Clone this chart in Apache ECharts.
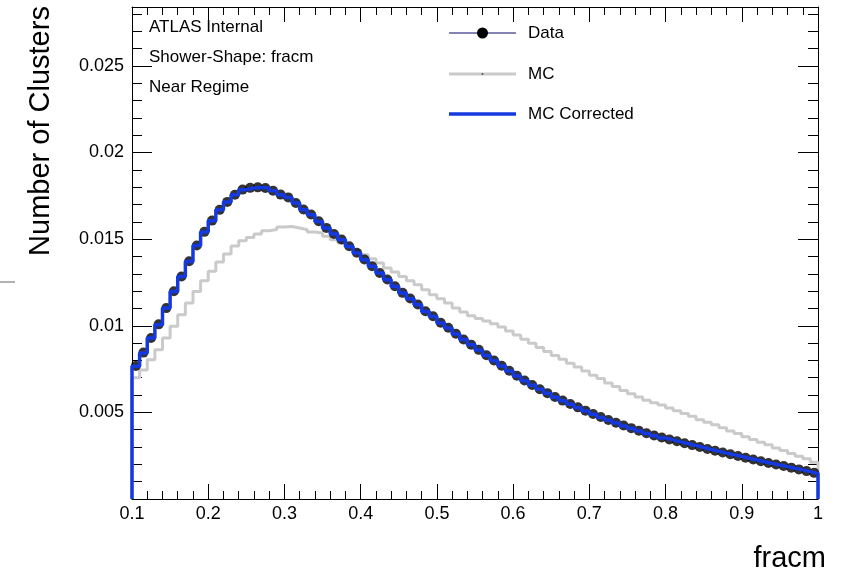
<!DOCTYPE html>
<html><head><meta charset="utf-8">
<script src="https://cdn.jsdelivr.net/npm/echarts@6/dist/echarts.min.js"></script>
<style>html,body{margin:0;padding:0;background:#fff}#c{width:841px;height:575px}</style>
</head><body><div id="c"></div>
<script>
// bin low edges (bin width 0.01)
const binLow = [0.10,0.11,0.12,0.13,0.14,0.15,0.16,0.17,0.18,0.19,
  0.20,0.21,0.22,0.23,0.24,0.25,0.26,0.27,0.28,0.29,
  0.30,0.31,0.32,0.33,0.34,0.35,0.36,0.37,0.38,0.39,
  0.40,0.41,0.42,0.43,0.44,0.45,0.46,0.47,0.48,0.49,
  0.50,0.51,0.52,0.53,0.54,0.55,0.56,0.57,0.58,0.59,
  0.60,0.61,0.62,0.63,0.64,0.65,0.66,0.67,0.68,0.69,
  0.70,0.71,0.72,0.73,0.74,0.75,0.76,0.77,0.78,0.79,
  0.80,0.81,0.82,0.83,0.84,0.85,0.86,0.87,0.88,0.89,
  0.90,0.91,0.92,0.93,0.94,0.95,0.96,0.97,0.98,0.99];
const binWidth = 0.01;

const mcCorrValues = [0.00766,0.00843,0.00930,0.01006,0.01103,0.01198,0.01285,0.01371,0.01464,0.01541,
  0.01606,0.01670,0.01714,0.01756,0.01785,0.01795,0.01798,0.01795,0.01779,0.01756,
  0.01740,0.01708,0.01670,0.01641,0.01602,0.01564,0.01529,0.01497,0.01458,0.01420,
  0.01381,0.01343,0.01304,0.01266,0.01227,0.01189,0.01156,0.01122,0.01083,0.01054,
  0.01016,0.00987,0.00953,0.00920,0.00890,0.00860,0.00829,0.00798,0.00768,0.00739,
  0.00710,0.00683,0.00657,0.00633,0.00610,0.00588,0.00567,0.00547,0.00527,0.00508,
  0.00489,0.00471,0.00454,0.00438,0.00422,0.00407,0.00392,0.00378,0.00365,0.00352,
  0.00341,0.00330,0.00319,0.00308,0.00297,0.00286,0.00276,0.00265,0.00255,0.00245,
  0.00235,0.00225,0.00215,0.00205,0.00196,0.00187,0.00178,0.00168,0.00158,0.00148];

const dataValues = [0.00768,0.00845,0.00929,0.01008,0.01102,0.01199,0.01284,0.01372,0.01463,0.01542,
  0.01607,0.01669,0.01715,0.01756,0.01786,0.01796,0.01799,0.01795,0.01780,0.01757,
  0.01741,0.01709,0.01671,0.01642,0.01603,0.01565,0.01530,0.01498,0.01459,0.01421,
  0.01382,0.01344,0.01305,0.01267,0.01228,0.01190,0.01157,0.01123,0.01084,0.01055,
  0.01017,0.00988,0.00954,0.00921,0.00891,0.00861,0.00830,0.00799,0.00769,0.00740,
  0.00711,0.00684,0.00658,0.00634,0.00611,0.00589,0.00568,0.00548,0.00529,0.00510,
  0.00491,0.00473,0.00456,0.00440,0.00424,0.00409,0.00394,0.00380,0.00367,0.00355,
  0.00344,0.00333,0.00322,0.00311,0.00300,0.00289,0.00279,0.00268,0.00258,0.00248,
  0.00238,0.00228,0.00218,0.00208,0.00199,0.00190,0.00181,0.00171,0.00161,0.00151];

const mcValues = [0.00700,0.00745,0.00804,0.00862,0.00930,0.00997,0.01064,0.01131,0.01198,0.01260,
  0.01314,0.01368,0.01414,0.01460,0.01491,0.01510,0.01529,0.01548,0.01556,0.01570,
  0.01573,0.01564,0.01554,0.01541,0.01535,0.01516,0.01497,0.01478,0.01458,0.01433,
  0.01410,0.01387,0.01362,0.01333,0.01310,0.01285,0.01260,0.01237,0.01208,0.01179,
  0.01156,0.01131,0.01103,0.01080,0.01058,0.01042,0.01028,0.01012,0.00993,0.00970,
  0.00947,0.00922,0.00899,0.00874,0.00851,0.00828,0.00806,0.00783,0.00762,0.00739,
  0.00714,0.00695,0.00670,0.00649,0.00627,0.00608,0.00589,0.00570,0.00555,0.00542,
  0.00526,0.00510,0.00493,0.00478,0.00458,0.00443,0.00428,0.00411,0.00393,0.00378,
  0.00360,0.00343,0.00328,0.00313,0.00295,0.00280,0.00262,0.00247,0.00232,0.00212];

const xTickLabels = ['0.1','0.2','0.3','0.4','0.5','0.6','0.7','0.8','0.9','1'];
const yTickLabels = ['0.005','0.01','0.015','0.02','0.025'];
const seriesNames = ['Data','MC','MC Corrected'];
const annotations = ['ATLAS Internal','Shower-Shape: fracm','Near Regime'];

const FONT = 'Liberation Sans, Arial, Helvetica, sans-serif';
const X_MIN = 0.1, X_MAX = 1.0, Y_MIN = 0, Y_MAX = 0.0284;

function stepPoints(vals) {
  const last = binLow.length - 1;
  const pts = [[binLow[0], 0]];
  vals.forEach((v, i) => { pts.push([binLow[i], v]); pts.push([binLow[i] + binWidth, v]); });
  pts.push([binLow[last] + binWidth, 0]);
  return pts;
}

function xAxisDef(pos, major) {
  return {
    type: 'value', position: pos, min: X_MIN, max: X_MAX,
    interval: major ? 0.1 : 0.02,
    axisLine: { show: major, onZero: false, lineStyle: { color: '#000', width: 1 } },
    axisTick: { show: true, inside: true, length: major ? 15 : 8, lineStyle: { color: '#000', width: 1 } },
    axisLabel: (major && pos === 'bottom') ? {
      show: true, color: '#000', fontSize: 18, fontFamily: FONT, margin: 6,
      formatter: v => { const i = Math.round((v - 0.1) / 0.1); return Math.abs(v - (0.1 + 0.1 * i)) < 1e-6 ? (xTickLabels[i] || '') : ''; }
    } : { show: false },
    splitLine: { show: false }
  };
}
function yAxisDef(pos, major) {
  return {
    type: 'value', position: pos, min: Y_MIN, max: Y_MAX,
    interval: major ? 0.005 : 0.001,
    axisLine: { show: major, onZero: false, lineStyle: { color: '#000', width: 1 } },
    axisTick: { show: true, inside: true, length: major ? 20 : 10, lineStyle: { color: '#000', width: 1 } },
    axisLabel: (major && pos === 'left') ? {
      show: true, color: '#000', fontSize: 18, fontFamily: FONT, margin: 8,
      showMaxLabel: false,
      formatter: v => { const i = Math.round(v / 0.005); return (i >= 1 && Math.abs(v - 0.005 * i) < 1e-7) ? (yTickLabels[i - 1] || '') : ''; }
    } : { show: false },
    splitLine: { show: false }
  };
}

const chart = echarts.init(document.getElementById('c'), null, { renderer: 'canvas' });
const legX0 = 449, legX1 = 516, legText = 528;
const legY = [33, 74, 114];
chart.setOption({
  animation: false,
  backgroundColor: '#fff',
  grid: { left: 132, right: 23, top: 7, bottom: 76, containLabel: false },
  xAxis: [xAxisDef('bottom', true), xAxisDef('bottom', false), xAxisDef('top', true), xAxisDef('top', false)],
  yAxis: [yAxisDef('left', true), yAxisDef('left', false), yAxisDef('right', true), yAxisDef('right', false)],
  series: [
    { type: 'line', name: seriesNames[1], data: stepPoints(mcValues), showSymbol: false, symbol: 'none',
      lineStyle: { color: '#cacaca', width: 3 }, z: 2, xAxisIndex: 0, yAxisIndex: 0 },
    { type: 'scatter', name: seriesNames[0], data: binLow.map((x, i) => [x + binWidth / 2, dataValues[i]]),
      symbol: 'circle', symbolSize: 10, itemStyle: { color: '#000' }, z: 3, xAxisIndex: 0, yAxisIndex: 0 },
    { type: 'line', name: seriesNames[2], data: stepPoints(mcCorrValues), showSymbol: false, symbol: 'none',
      lineStyle: { color: '#1539e0', width: 3.5 }, z: 4, xAxisIndex: 0, yAxisIndex: 0 }
  ],
  graphic: [
    { type: 'text', x: 149, y: 27, style: { text: annotations[0], font: '17px ' + FONT, fill: '#000', verticalAlign: 'middle' } },
    { type: 'text', x: 149, y: 57, style: { text: annotations[1], font: '17px ' + FONT, fill: '#000', verticalAlign: 'middle' } },
    { type: 'text', x: 149, y: 87, style: { text: annotations[2], font: '17px ' + FONT, fill: '#000', verticalAlign: 'middle' } },
    // legend
    { type: 'line', shape: { x1: legX0, y1: legY[0], x2: legX1, y2: legY[0] }, style: { stroke: '#5a5a9c', lineWidth: 1.5 } },
    { type: 'circle', shape: { cx: (legX0 + legX1) / 2, cy: legY[0], r: 5.5 }, style: { fill: '#000' } },
    { type: 'text', x: legText, y: legY[0], style: { text: seriesNames[0], font: '17px ' + FONT, fill: '#000', verticalAlign: 'middle' } },
    { type: 'line', shape: { x1: legX0, y1: legY[1], x2: legX1, y2: legY[1] }, style: { stroke: '#cacaca', lineWidth: 3 } },
    { type: 'circle', shape: { cx: (legX0 + legX1) / 2, cy: legY[1], r: 1 }, style: { fill: '#555' } },
    { type: 'text', x: legText, y: legY[1], style: { text: seriesNames[1], font: '17px ' + FONT, fill: '#000', verticalAlign: 'middle' } },
    { type: 'line', shape: { x1: legX0, y1: legY[2], x2: legX1, y2: legY[2] }, style: { stroke: '#1539e0', lineWidth: 3.5 } },
    { type: 'text', x: legText, y: legY[2], style: { text: seriesNames[2], font: '17px ' + FONT, fill: '#000', verticalAlign: 'middle' } },
    // axis titles
    { type: 'text', x: 41, y: 131, rotation: Math.PI / 2,
      style: { text: 'Number of Clusters', font: '29px ' + FONT, fill: '#000', textAlign: 'center', verticalAlign: 'middle' } },
    { type: 'text', x: 826, y: 559,
      style: { text: 'fracm', font: '29px ' + FONT, fill: '#000', textAlign: 'right', verticalAlign: 'middle' } },
    // stray mark at the left edge
    { type: 'line', shape: { x1: 0, y1: 282, x2: 15, y2: 282 }, style: { stroke: '#666', lineWidth: 1 } }
  ]
});
</script></body></html>
